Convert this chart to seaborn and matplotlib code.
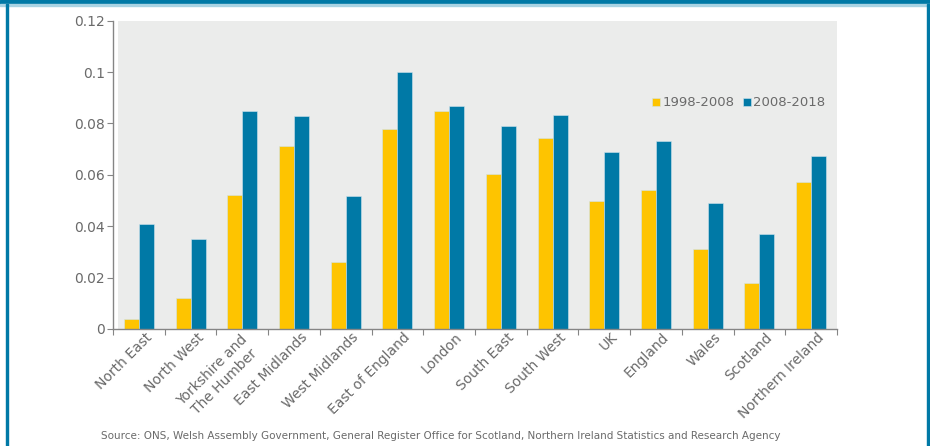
import matplotlib
matplotlib.use("Agg")
import matplotlib.pyplot as plt
import matplotlib.transforms as mtrans
from matplotlib.patches import Rectangle
from matplotlib.ticker import FixedLocator
import pandas as pd
import seaborn as sns

regions = ["North East", "North West", "Yorkshire and\nThe Humber", "East Midlands",
           "West Midlands", "East of England", "London", "South East", "South West",
           "UK", "England", "Wales", "Scotland", "Northern Ireland"]
periods = ["1998-2008", "2008-2018"]
growth_1998_2008 = [0.0038, 0.0120, 0.0520, 0.0714, 0.0259, 0.0780, 0.0850, 0.0605,
                    0.0742, 0.0497, 0.0540, 0.0310, 0.0178, 0.0574]
growth_2008_2018 = [0.0410, 0.0349, 0.0849, 0.0828, 0.0516, 0.1000, 0.0869, 0.0792,
                    0.0834, 0.0687, 0.0733, 0.0490, 0.0368, 0.0675]
y_ticks = [0, 0.02, 0.04, 0.06, 0.08, 0.1, 0.12]
y_tick_labels = ["0", "0.02", "0.04", "0.06", "0.08", "0.1", "0.12"]
source_note = ("Source: ONS, Welsh Assembly Government, General Register Office for Scotland, "
               "Northern Ireland Statistics and Research Agency")

YELLOW = "#FEC400"
BLUE = "#0079A6"
PANEL = "#EBECEB"
TEXT = "#6a6a6a"
AXIS = "#858585"

df = pd.DataFrame({
    "region": regions * 2,
    "period": [periods[0]] * len(regions) + [periods[1]] * len(regions),
    "value": growth_1998_2008 + growth_2008_2018,
})

sns.set_theme(style="white")
plt.rcParams["font.family"] = ["DejaVu Sans"]

W, H = 930, 446
fig = plt.figure(figsize=(W / 100, H / 100), dpi=100)

# frame: teal band on top, thin side rules
fig.patches.append(Rectangle((0, 1 - 4 / H), 1, 4 / H, transform=fig.transFigure,
                             color=BLUE, zorder=0))
fig.patches.append(Rectangle((0, 1 - 5.5 / H), 1, 1.5 / H, transform=fig.transFigure,
                             color="#a9d3e3", zorder=0))
fig.patches.append(Rectangle((5.5 / W, 0), 2 / W, 1 - 4 / H, transform=fig.transFigure,
                             color=BLUE, zorder=0))
fig.patches.append(Rectangle((927 / W, 0), 2 / W, 1 - 4 / H, transform=fig.transFigure,
                             color=BLUE, zorder=0))

left, right, top, bottom = 113, 837, 20.7, 329
ax = fig.add_axes([left / W, 1 - bottom / H, (right - left) / W, (bottom - top) / H])
ax.set_facecolor("none")
span = right - left
ax.add_patch(Rectangle((5 / span, 0), 1 - 5 / span, 1, transform=ax.transAxes,
                       color=PANEL, zorder=0, lw=0))

sns.barplot(data=df, x="region", y="value", hue="period", hue_order=periods,
            palette=[YELLOW, BLUE], saturation=1, width=0.58, ax=ax,
            edgecolor="#cfe4ec", linewidth=0.4, zorder=2)

ax.set_xlim(-0.5, len(regions) - 0.5)
ax.set_ylim(0, 0.12)
ax.set_xlabel("")
ax.set_ylabel("")

for side in ["top", "right"]:
    ax.spines[side].set_visible(False)
for side in ["left", "bottom"]:
    ax.spines[side].set_color(AXIS)
    ax.spines[side].set_linewidth(1.0)

ax.yaxis.set_major_locator(FixedLocator(y_ticks))
ax.set_yticklabels(y_tick_labels)
ax.tick_params(axis="y", which="major", direction="out", length=4, width=0.8,
               color=AXIS, labelcolor=TEXT, labelsize=10, pad=2, left=True)

# category labels at centres, tick marks on category boundaries
ax.set_xticks(range(len(regions)))
ax.xaxis.set_minor_locator(FixedLocator([i - 0.5 for i in range(len(regions) + 1)]))
ax.tick_params(axis="x", which="major", length=0, labelcolor=TEXT, labelsize=10, pad=0)
ax.tick_params(axis="x", which="minor", direction="out", length=4, width=0.8,
               color=AXIS, bottom=True)
ax.set_xticklabels(regions, rotation=45, ha="right", va="center",
                   rotation_mode="anchor", multialignment="center")
for lbl in ax.get_xticklabels():
    # two-line labels hang lower so their first line sits with the others
    dx, dy = (9, -14) if "\n" in lbl.get_text() else (11, -6)
    offset = mtrans.ScaledTranslation(dx / 100, dy / 100, fig.dpi_scale_trans)
    lbl.set_transform(lbl.get_transform() + offset)

handles, labels = ax.get_legend_handles_labels()
ax.legend(handles, labels, loc="center right", bbox_to_anchor=(832 / W, 1 - 103 / H),
          bbox_transform=fig.transFigure, ncol=2, frameon=False, fontsize=9.5,
          handlelength=0.6, handleheight=0.6, handletextpad=0.2, columnspacing=0.6,
          labelcolor=TEXT, borderpad=0)

fig.text(441 / W, 1 - 436 / H, source_note, ha="center", va="center",
         fontsize=7.5, color=TEXT)

fig.savefig("out.png", dpi=100)
